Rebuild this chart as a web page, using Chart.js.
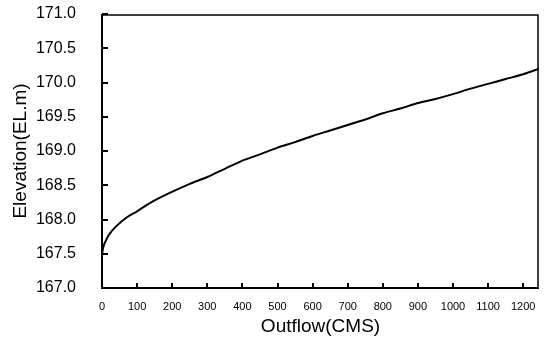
<!DOCTYPE html>
<html>
<head>
<meta charset="utf-8">
<script src="https://cdn.jsdelivr.net/npm/chart.js@4"></script>
<style>
  html, body { margin: 0; padding: 0; background: #fff; }
</style>
</head>
<body>
<canvas id="chart-Outflow" width="548" height="342"></canvas>
<script>
const outflowValue = [0, 5, 10, 20, 40, 70, 100, 140, 190, 250, 300, 350, 400, 450, 500, 550, 600, 650, 700, 750, 800, 850, 900, 950, 1000, 1050, 1100, 1150, 1200, 1245];
const elevationValue = [167.50, 167.62, 167.68, 167.78, 167.90, 168.03, 168.12, 168.25, 168.38, 168.52, 168.62, 168.74, 168.86, 168.95, 169.05, 169.13, 169.22, 169.30, 169.38, 169.46, 169.55, 169.62, 169.70, 169.76, 169.83, 169.91, 169.98, 170.05, 170.12, 170.20];
const xTickValue = [0, 100, 200, 300, 400, 500, 600, 700, 800, 900, 1000, 1100, 1200];

const points = outflowValue.map(function (x, i) {
    return { x: x, y: elevationValue[i] };
});

// box around the plot, ticks point inward
const frameAndTicks = {
    id: 'frameAndTicks',
    afterDraw: function (chart) {
        const ctx = chart.ctx;
        const a = chart.chartArea;
        const xs = chart.scales.x;
        const ys = chart.scales.y;
        ctx.save();
        ctx.strokeStyle = '#000';
        // top + right: thinner
        ctx.lineWidth = 1.5;
        ctx.beginPath();
        ctx.moveTo(a.left, a.top + 1);
        ctx.lineTo(a.right - 1, a.top + 1);
        ctx.lineTo(a.right - 1, a.bottom);
        ctx.stroke();
        // left + bottom
        ctx.lineWidth = 2;
        ctx.beginPath();
        ctx.moveTo(a.left, a.top);
        ctx.lineTo(a.left, a.bottom);
        ctx.lineTo(a.right, a.bottom);
        ctx.stroke();
        // ticks
        ctx.lineWidth = 2;
        ctx.beginPath();
        xs.ticks.forEach(function (t) {
            const px = Math.round(xs.getPixelForValue(t.value));
            ctx.moveTo(px, a.bottom);
            ctx.lineTo(px, a.bottom - 5);
        });
        ys.ticks.forEach(function (t) {
            const py = Math.round(ys.getPixelForValue(t.value));
            ctx.moveTo(a.left, py);
            ctx.lineTo(a.left + 6, py);
        });
        ctx.stroke();
        ctx.restore();
    }
};

const ctxOutflow = document.getElementById("chart-Outflow").getContext("2d");

const chartOutflow = new Chart(ctxOutflow, {
    type: 'line',
    data: {
        datasets: [
            {
                label: 'Elevation',
                data: points,
                borderColor: '#000',
                borderWidth: 2,
                pointRadius: 0,
                tension: 0.3,
                fill: false
            }
        ]
    },
    options: {
        responsive: false,
        animation: false,
        layout: { padding: { left: 0, right: 9, top: 14, bottom: 0 } },
        plugins: {
            legend: { display: false },
            tooltip: { enabled: false }
        },
        scales: {
            x: {
                type: 'linear',
                min: 0,
                max: 1245,
                afterBuildTicks: function (scale) {
                    scale.ticks = xTickValue.map(function (v) { return { value: v }; });
                },
                afterFit: function (scale) {
                    scale.height = 54;
                    scale.paddingLeft = 0;
                    scale.paddingRight = 0;
                },
                grid: { display: false },
                border: { display: false },
                ticks: {
                    color: '#000',
                    font: { family: 'Liberation Sans, Arial', size: 11 },
                    padding: 4,
                    maxRotation: 0,
                    autoSkip: false,
                    callback: function (v) { return String(v); }
                },
                title: {
                    display: true,
                    text: 'Outflow(CMS)',
                    color: '#000',
                    font: { family: 'Liberation Sans, Arial', size: 19 },
                    padding: { top: 0, bottom: 4 }
                }
            },
            y: {
                min: 167,
                max: 171,
                afterFit: function (scale) {
                    scale.width = 102;
                    scale.paddingTop = 0;
                    scale.paddingBottom = 0;
                },
                grid: { display: false },
                border: { display: false },
                ticks: {
                    stepSize: 0.5,
                    color: '#000',
                    font: { family: 'Liberation Sans, Arial', size: 16 },
                    padding: 18,
                    callback: function (v) { return v.toFixed(1); }
                },
                title: {
                    display: true,
                    text: 'Elevation(EL.m)',
                    color: '#000',
                    font: { family: 'Liberation Sans, Arial', size: 19 },
                    padding: { top: 9, bottom: 0 }
                }
            }
        }
    },
    plugins: [frameAndTicks]
});
</script>
</body>
</html>
